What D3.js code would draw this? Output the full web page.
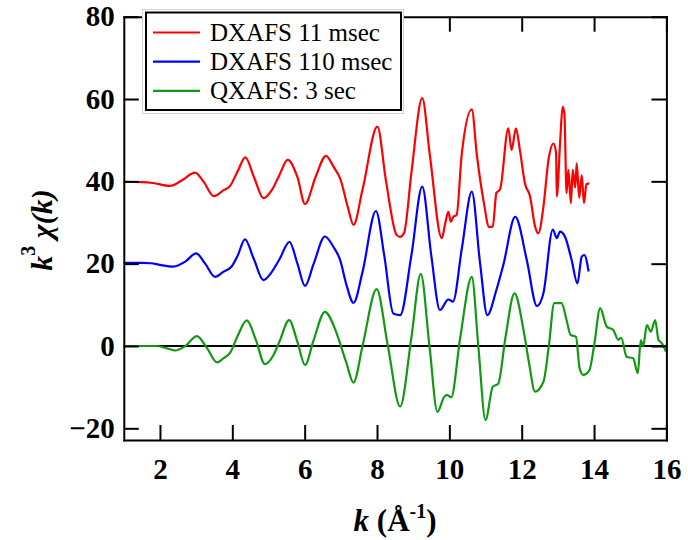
<!DOCTYPE html>
<html>
<head>
<meta charset="utf-8">
<script src="https://cdn.jsdelivr.net/npm/d3@7"></script>
<style>
  html, body { margin: 0; padding: 0; background: #fff; }
  svg { display: block; }
  .axis path, .axis line { stroke: #000; stroke-width: 2; }
  .axis text { font-family: "Liberation Serif", "Times New Roman", serif; font-weight: bold; font-size: 29px; fill: #000; }
</style>
</head>
<body>
<svg id="chart" width="688" height="540"></svg>
<script>
// k (Å^-1) and k^3·chi(k) for each measurement (vertically offset by 40 / 20 / 0)
const kRed = [1.0, 1.5, 1.8, 2.28, 2.6, 2.97, 3.2, 3.49, 3.75, 3.94, 4.15, 4.36, 4.6, 4.86, 5.1, 5.3, 5.53, 5.8, 6.01, 6.3, 6.59, 6.8, 6.98, 7.2, 7.35, 7.6, 8.01, 8.25, 8.54, 8.64, 8.75, 8.95, 9.25, 9.46, 9.79, 9.88, 9.97, 10.04, 10.11, 10.2, 10.34, 10.62, 10.76, 10.95, 11.1, 11.2, 11.3, 11.4, 11.63, 11.72, 11.84, 11.95, 12.09, 12.23, 12.37, 12.46, 12.6, 12.74, 12.88, 12.95, 12.97, 13.06, 13.13, 13.18, 13.24, 13.29, 13.36, 13.41, 13.48, 13.52, 13.59, 13.66, 13.72, 13.79, 13.87];
const chiRed = [39.9, 39.8, 39.6, 38.9, 40.2, 42.1, 40.0, 36.4, 37.8, 38.9, 42.5, 45.8, 41.0, 35.9, 38.0, 41.5, 45.2, 41.0, 34.5, 41.0, 46.2, 43.5, 40.7, 33.5, 29.4, 38.0, 53.3, 40.0, 27.0, 26.5, 27.5, 42.0, 60.2, 46.4, 26.2, 29.5, 32.6, 30.2, 31.4, 31.8, 46.4, 57.5, 46.4, 35.0, 28.9, 29.0, 37.2, 38.0, 52.9, 47.6, 52.9, 47.6, 39.5, 36.4, 29.0, 27.4, 33.8, 45.2, 49.2, 46.9, 36.3, 49.2, 58.1, 56.5, 37.1, 42.8, 34.7, 42.8, 38.5, 44.4, 36.0, 41.5, 34.7, 39.3, 39.5];

const kBlue = [1.0, 1.5, 1.75, 2.0, 2.37, 2.7, 3.0, 3.25, 3.52, 3.75, 3.98, 4.15, 4.35, 4.6, 4.86, 5.05, 5.3, 5.58, 5.8, 6.01, 6.25, 6.56, 6.8, 6.98, 7.15, 7.35, 7.6, 7.97, 8.2, 8.45, 8.64, 8.95, 9.25, 9.5, 9.74, 9.97, 10.1, 10.35, 10.62, 10.85, 11.05, 11.3, 11.5, 11.82, 12.14, 12.42, 12.6, 12.86, 12.97, 13.06, 13.2, 13.38, 13.54, 13.66, 13.73, 13.85];
const chiBlue = [20.2, 20.2, 20.1, 19.7, 19.3, 20.5, 22.5, 20.0, 16.8, 18.0, 19.3, 22.0, 25.9, 21.0, 16.0, 17.5, 21.0, 25.3, 20.0, 14.6, 20.0, 26.6, 24.0, 20.9, 15.0, 10.5, 18.0, 32.8, 22.0, 7.9, 7.5, 22.0, 38.7, 22.0, 8.7, 11.3, 10.8, 24.0, 37.5, 20.0, 7.5, 13.6, 20.0, 31.4, 20.9, 9.7, 12.8, 28.3, 26.2, 27.8, 26.5, 20.9, 15.2, 21.7, 22.1, 18.1];

const kGreen = [1.0, 1.5, 1.9, 2.2, 2.42, 2.7, 3.02, 3.3, 3.58, 3.75, 3.94, 4.15, 4.4, 4.65, 4.9, 5.15, 5.3, 5.57, 5.8, 6.01, 6.25, 6.56, 6.8, 6.93, 7.15, 7.35, 7.6, 7.99, 8.3, 8.64, 8.95, 9.21, 9.45, 9.67, 9.85, 9.93, 10.05, 10.3, 10.62, 10.8, 11.0, 11.2, 11.35, 11.55, 11.8, 12.05, 12.2, 12.37, 12.6, 12.75, 12.9, 13.1, 13.24, 13.35, 13.5, 13.6, 13.7, 13.87, 14.0, 14.17, 14.35, 14.53, 14.67, 14.75, 14.9, 15.08, 15.21, 15.29, 15.36, 15.46, 15.57, 15.69, 15.78, 15.87, 15.99];
const chiGreen = [0.0, 0.0, 0.0, -0.6, -1.1, 0.0, 2.4, -0.5, -4.0, -3.0, -1.6, 2.5, 6.2, 1.5, -4.4, -2.0, 1.0, 6.3, 1.0, -4.6, 1.5, 8.3, 5.0, 1.9, -4.0, -8.9, 0.0, 13.8, 0.0, -14.7, 2.0, 17.5, 0.0, -16.0, -12.5, -11.9, -12.5, 2.0, 16.8, 0.0, -18.0, -9.9, -9.2, 2.0, 12.8, 3.9, -4.0, -11.1, -8.7, 0.0, 10.4, 10.4, 6.3, 2.7, 2.2, -5.4, -7.0, -5.9, 0.0, 9.2, 4.7, 3.9, 1.5, 2.0, -2.6, -3.0, -6.6, 1.4, 0.0, 5.1, 3.5, 6.3, 1.5, 0.7, -1.4];

const seriesNames = ["DXAFS 11 msec", "DXAFS 110 msec", "QXAFS: 3 sec"];
const seriesColors = ["#ff0000", "#0000ff", "#119911"];
const xTickValues = [2, 4, 6, 8, 10, 12, 14, 16];
const yTickValues = [-20, 0, 20, 40, 60, 80];

const svg = d3.select("#chart");
const plotLeft = 123.8, plotRight = 666.4, plotTop = 16.7, plotBottom = 440;

const x = d3.scaleLinear().domain([1, 16]).range([plotLeft, plotRight]);
const y = d3.scaleLinear().domain([-22.84, 80]).range([plotBottom, plotTop]);

// zero reference line
svg.append("line")
  .attr("x1", x(1)).attr("x2", x(16))
  .attr("y1", y(0)).attr("y2", y(0))
  .attr("stroke", "#000").attr("stroke-width", 2);

// curves
const line = d3.line()
  .x(d => x(d[0]))
  .y(d => y(d[1]))
  .curve(d3.curveMonotoneX);

const series = [
  { k: kRed, chi: chiRed },
  { k: kBlue, chi: chiBlue },
  { k: kGreen, chi: chiGreen }
];
series.forEach((s, i) => {
  svg.append("path")
    .datum(s.k.map((kv, j) => [kv, s.chi[j]]))
    .attr("fill", "none")
    .attr("stroke", seriesColors[i])
    .attr("stroke-width", 2.2)
    .attr("stroke-linejoin", "round")
    .attr("d", line);
});

// frame with inward ticks
const tick = 15;
svg.append("g").attr("class", "axis")
  .attr("transform", `translate(0,${plotBottom})`)
  .call(d3.axisBottom(x).tickValues(xTickValues).tickSizeInner(-tick).tickSizeOuter(0).tickPadding(18).tickFormat(d3.format("d")));
svg.append("g").attr("class", "axis")
  .attr("transform", `translate(0,${plotTop})`)
  .call(d3.axisTop(x).tickValues(xTickValues).tickSizeInner(-tick).tickSizeOuter(0).tickFormat(""));
svg.append("g").attr("class", "axis")
  .attr("transform", `translate(${plotLeft},0)`)
  .call(d3.axisLeft(y).tickValues(yTickValues).tickSizeInner(-tick).tickSizeOuter(0).tickPadding(9).tickFormat(d3.format("d")));
svg.append("g").attr("class", "axis")
  .attr("transform", `translate(${plotRight},0)`)
  .call(d3.axisRight(y).tickValues(yTickValues).tickSizeInner(-tick).tickSizeOuter(0).tickFormat(""));

svg.selectAll(".axis .domain").attr("stroke-linecap", "square");

// axis titles
const serif = '"Liberation Serif", "Times New Roman", serif';
const xt = svg.append("text")
  .attr("x", (plotLeft + plotRight) / 2).attr("y", 531)
  .attr("text-anchor", "middle")
  .attr("font-family", serif).attr("font-weight", "bold").attr("font-size", 31);
xt.append("tspan").attr("font-style", "italic").text("k");
xt.append("tspan").text(" (Å");
xt.append("tspan").attr("font-size", 20).attr("dy", -13).text("-1");
xt.append("tspan").attr("dy", 13).text(")");

const yt = svg.append("text")
  .attr("transform", "translate(52,230) rotate(-90)")
  .attr("text-anchor", "middle")
  .attr("font-family", serif).attr("font-weight", "bold").attr("font-size", 30);
yt.append("tspan").attr("font-style", "italic").text("k");
yt.append("tspan").attr("font-size", 20).attr("dy", -17).text("3");
yt.append("tspan").attr("dy", 17).attr("font-style", "italic").text(" χ(k)");

// legend
const lg = svg.append("g");
lg.append("rect").attr("x", 142.5).attr("y", 9.5).attr("width", 261).attr("height", 104)
  .attr("fill", "#fff").attr("stroke", "#d0d0d0").attr("stroke-width", 1);
lg.append("rect").attr("x", 146).attr("y", 12.5).attr("width", 255).attr("height", 97.5)
  .attr("fill", "#fff").attr("stroke", "#000").attr("stroke-width", 2);
seriesNames.forEach((name, i) => {
  const ly = 32.5 + i * 29.2;
  lg.append("line").attr("x1", 153).attr("x2", 200).attr("y1", ly).attr("y2", ly)
    .attr("stroke", seriesColors[i]).attr("stroke-width", 2.2);
  lg.append("text").attr("x", 210).attr("y", ly + 8.5)
    .attr("font-family", serif).attr("font-size", 25).attr("fill", "#000")
    .text(name);
});
</script>
</body>
</html>
